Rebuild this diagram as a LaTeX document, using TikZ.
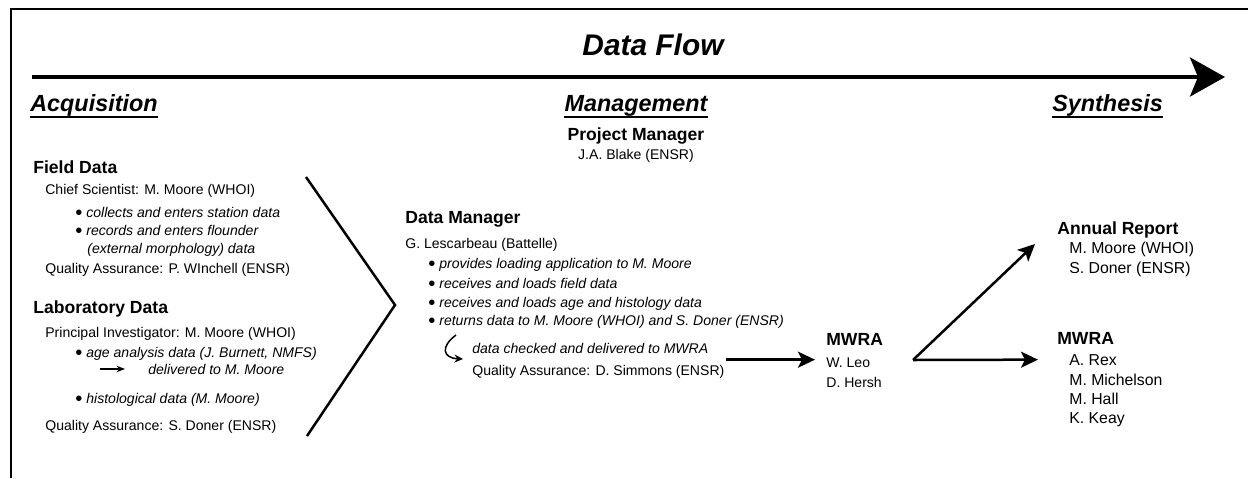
\documentclass[tikz,border=0pt]{standalone}
\usepackage{fontspec}
\setmainfont{Liberation Sans}
\usetikzlibrary{arrows.meta,calc}

\newcommand{\bigdot}{\textup{\raisebox{-1.6pt}{\fontsize{11.5}{8}\selectfont\textbullet}}\ }

\begin{document}
\begin{tikzpicture}[x=0.02cm, y=-0.02cm,
    body/.style={font=\fontsize{8}{9.6}\selectfont, anchor=base west, inner sep=0pt},
    item/.style={body, font=\fontsize{8}{9.6}\selectfont\itshape},
    who/.style={body, font=\fontsize{9}{11}\selectfont},
    head/.style={font=\fontsize{10}{12}\selectfont\bfseries, anchor=base west, inner sep=0pt},
    phase/.style={font=\fontsize{13.3}{16}\selectfont\bfseries\itshape, inner sep=0pt, text depth=0.34em},
    uline/.style={line width=0.045cm},
    flow/.style={line width=0.05cm, -{Stealth[length=0.34cm, width=0.32cm, inset=0.08cm]}}]
  \useasboundingbox (0,0) rectangle (1248,478);
  \draw[line width=0.04cm] (1248,9) -- (11,9) -- (11,478);

  % title and the long arrow
  \node (title) [font=\fontsize{17}{20}\selectfont\bfseries\itshape, inner sep=0pt, anchor=base] at (653,55) {Data Flow};
  \coordinate (start) at (32,77);
  \coordinate (stop) at (1225,77);
  \draw[line width=0.08cm, -{Stealth[length=0.7cm, width=0.78cm, inset=0.16cm]}] (start) -- (stop);

  % phases
  \node (acq) [phase, anchor=base west] at (30,111) {Acquisition};
  \node (man) [phase, anchor=base] at (636,111) {Management};
  \node (syn) [phase, anchor=base west] at (1052,111) {Synthesis};
  \foreach \p in {acq,man,syn}
    \draw[uline] (\p.south west) -- (\p.south east);

  % acquisition
  \node (fd) [head] at (33,173) {Field Data};
  \node (cs) [body] at (45,194) {Chief Scientist: M. Moore (WHOI)};
  \node (b1) [item] at (75,217) {\bigdot collects and enters station data};
  \node (b2) [item] at (75,235) {\bigdot records and enters flounder};
  \node (b2x) [item] at (87,253) {(external morphology) data};
  \node (qa1) [body] at (45,273) {Quality Assurance: P. WInchell (ENSR)};

  \node (ld) [head] at (33,313) {Laboratory Data};
  \node (pi) [body] at (45,337) {Principal Investigator: M. Moore (WHOI)};
  \node (b3) [item] at (75,357) {\bigdot age analysis data (J. Burnett, NMFS)};
  \node (dlv) [item] at (148,374) {delivered to M. Moore};
  \node (b4) [item] at (75,403) {\bigdot histological data (M. Moore)};
  \node (qa2) [body] at (45,430) {Quality Assurance: S. Doner (ENSR)};
  \draw[line width=0.025cm, -{Stealth[length=0.17cm, width=0.13cm]}] ($(dlv.west)+(-48,0)$) -- ($(dlv.west)+(-23,0)$);

  % chevron
  \draw[line width=0.05cm] (306,177) -- (395,305) -- (307,436);

  % management
  \node (pm) [head, anchor=base] at (636,140) {Project Manager};
  \node (jab) [body, anchor=base] at (636,159) {J.A. Blake (ENSR)};

  \node (dm) [head] at (405,223) {Data Manager};
  \node (gl) [body] at (405,248) {G. Lescarbeau (Battelle)};
  \node (b5) [item] at (428,268) {\bigdot provides loading application to M. Moore};
  \node (b6) [item] at (428,288) {\bigdot receives and loads field data};
  \node (b7) [item] at (428,307) {\bigdot receives and loads age and histology data};
  \node (b8) [item] at (428,325) {\bigdot returns data to M. Moore (WHOI) and S. Doner (ENSR)};
  \node (chk) [item] at (472,353) {data checked and delivered to MWRA};
  \node (qa3) [body] at (472,375) {Quality Assurance: D. Simmons (ENSR)};
  \coordinate (hk1) at (456,335);
  \coordinate (hk2) at (463,359);
  \draw[line width=0.03cm, -{Stealth[length=0.17cm, width=0.16cm]}] (hk1) .. controls (440,347) and (443,358) .. (hk2);

  % MWRA
  \node (mwa) [head] at (826,345) {MWRA};
  \node (mwl) [body] at (826,367) {W. Leo};
  \node (mwh) [body] at (826,387) {D. Hersh};
  \coordinate (a) at ($(chk.east)!0.5!(qa3.east)$);
  \draw[flow] ($(a)+(9,0)$) -- ($(a -| mwl.west)+(-11,0)$);

  % synthesis
  \node (ar) [head] at (1057,234) {Annual Report};
  \node (ar1) [who] at (1069,253) {M. Moore (WHOI)};
  \node (ar2) [who] at (1069,273) {S. Doner (ENSR)};
  \node (mr) [head] at (1057,344) {MWRA};
  \node (rex) [who] at (1069,365) {A. Rex};
  \node (mic) [who] at (1069,385) {M. Michelson};
  \node (hal) [who] at (1069,404) {M. Hall};
  \node (kea) [who] at (1069,423) {K. Keay};

  \coordinate (fork) at (913,360);
  \draw[flow] (fork) -- ($(ar.south west)+(-22,6)$);
  \draw[flow] (fork) -- ($(rex.west)+(-31,0)$);
\end{tikzpicture}
\end{document}
